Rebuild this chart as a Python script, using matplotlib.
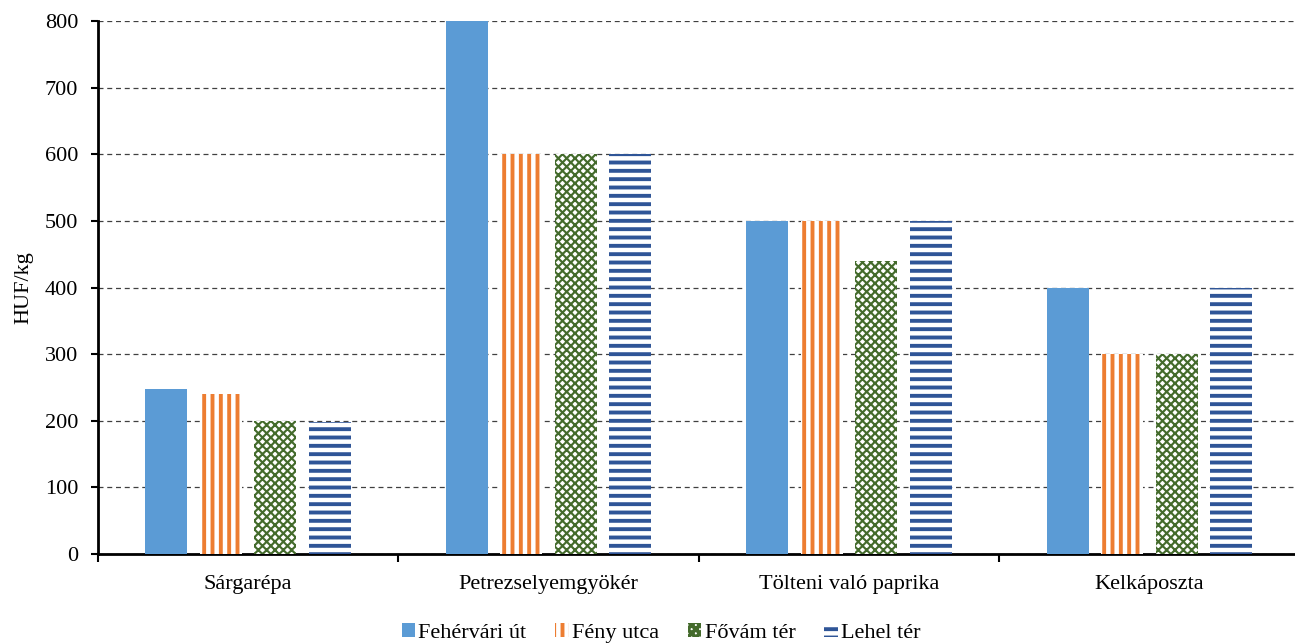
import numpy as np
import matplotlib.pyplot as plt

plt.rcParams['font.family'] = ['Liberation Serif', 'DejaVu Serif']

kategoriak = ["Sárgarépa", "Petrezselyemgyökér", "Tölteni való paprika", "Kelkáposzta"]
feher = [248, 800, 500, 400]
feny = [240, 600, 500, 300]
fovam = [200, 600, 440, 300]
lehel = [198, 600, 500, 400]
piacok = ["Fehérvári út", "Fény utca", "Fővám tér", "Lehel tér"]

fig = plt.figure(figsize=(12.95, 6.44), dpi=100)
# a tengely jobbra kilog a kepbol, mint az eredetin
ax = fig.add_axes([0.0755, 0.140, 0.9282, 0.827])

x = np.arange(len(kategoriak))
w = 0.14
d = 0.1814


def vastag(bars, lw):
    # hatch vastagsag oszloponkent
    for b in bars:
        if hasattr(b, 'set_hatch_linewidth'):
            b.set_hatch_linewidth(lw)


plt.rcParams['hatch.linewidth'] = 2.8
ax.bar(x - 1.5 * d, feher, w, color='#5B9BD5', label=piacok[0], zorder=3)
b1 = ax.bar(x - 0.5 * d, feny, w, color='white', edgecolor='#ED7D31', linewidth=0,
            hatch='||', label=piacok[1], zorder=3)
b2 = ax.bar(x + 0.5 * d, fovam, w, color='white', edgecolor='#446B2C', linewidth=0,
            hatch='xxxx', label=piacok[2], zorder=3)
b3 = ax.bar(x + 1.5 * d, lehel, w, color='white', edgecolor='#2F5597', linewidth=0,
            hatch='--', label=piacok[3], zorder=3)
vastag(b1, 2.8)
vastag(b2, 1.55)
vastag(b3, 2.8)

ax.set_xlim(-0.5, 3.5)
ax.set_ylim(0, 800)
ax.set_yticks(range(0, 801, 100))
ax.set_xticks(x)
ax.set_xticklabels(kategoriak, fontsize=16)
ax.set_xticks([-0.5, 0.5, 1.5, 2.5, 3.5], minor=True)
ax.tick_params(axis='x', which='major', length=0, pad=15)
ax.tick_params(axis='x', which='minor', length=6, width=1.5, direction='out')
ax.tick_params(axis='y', labelsize=16, length=5, width=1.5, pad=9)
ax.set_ylabel("HUF/kg", fontsize=16, labelpad=8)

ax.grid(axis='y', linestyle=(0, (4, 3)), color='#404040', linewidth=0.9, zorder=0)
ax.set_axisbelow(True)
for s in ['top', 'right']:
    ax.spines[s].set_visible(False)
ax.spines['left'].set_linewidth(2)
ax.spines['bottom'].set_linewidth(2)

leg = ax.legend(loc='upper center', bbox_to_anchor=(0.4685, -0.093), ncol=4, frameon=False,
                fontsize=16, handlelength=0.6, handleheight=0.6, handletextpad=0.15,
                columnspacing=1.3)

plt.savefig("out.png", dpi=100)
